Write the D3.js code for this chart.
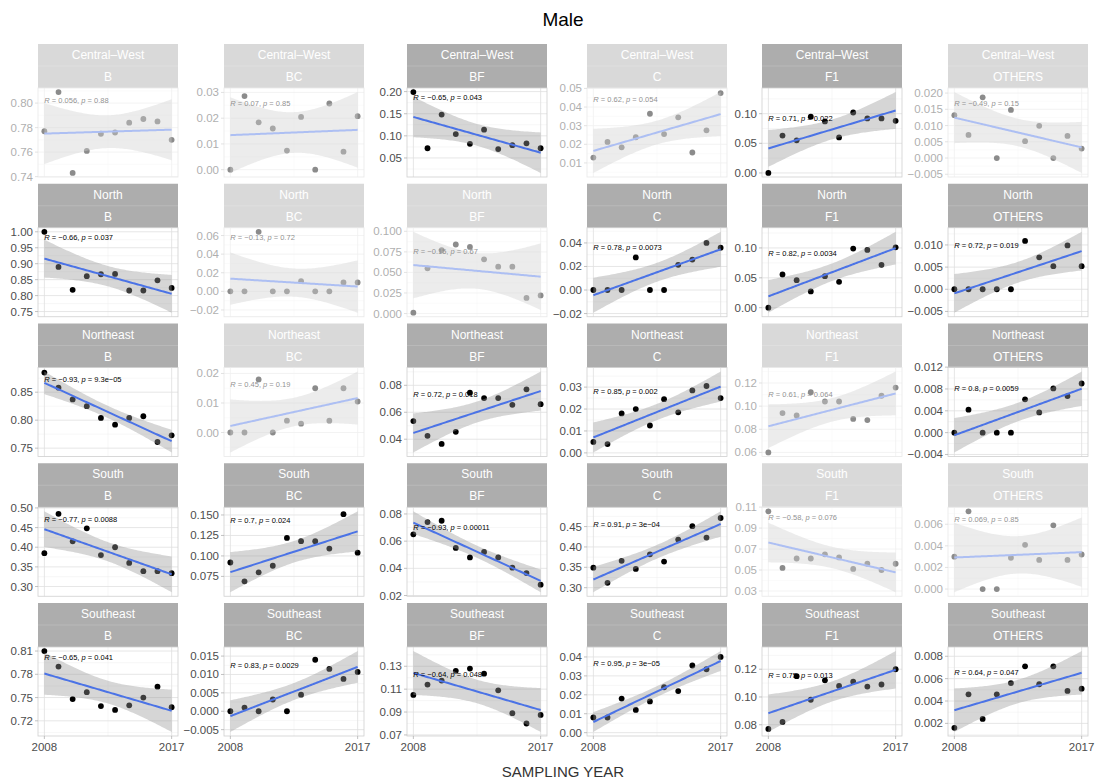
<!DOCTYPE html>
<html>
<head>
<meta charset="utf-8">
<script src="https://cdn.jsdelivr.net/npm/d3@7"></script>
<style>
  body { margin: 0; background: #fff; }
  text { font-family: "Liberation Sans", Arial, Helvetica, sans-serif; }
</style>
</head>
<body>
<svg id="chart" width="1097" height="783"></svg>
<script>
// sampling years and facet labels
var years = [2008, 2009, 2010, 2011, 2012, 2013, 2014, 2015, 2016, 2017];
var regions = ["Central\u2013West", "North", "Northeast", "South", "Southeast"];
var groups = ["B", "BC", "BF", "C", "F1", "OTHERS"];

// values per region, one array per group (B, BC, BF, C, F1, OTHERS)
var centralWest = [
  [0.777, 0.809, 0.743, 0.761, 0.775, 0.776, 0.784, 0.787, 0.785, 0.770],
  [0.000, 0.0286, 0.0184, 0.0160, 0.0074, 0.0205, 0.000, 0.0257, 0.0070, 0.0208],
  [0.199, 0.072, 0.148, 0.104, 0.082, 0.114, 0.070, 0.079, 0.083, 0.072],
  [0.0129, 0.0213, 0.0184, 0.0238, 0.0364, 0.0255, 0.0345, 0.0156, 0.0275, 0.0475],
  [0.000, 0.063, 0.055, 0.095, 0.087, 0.060, 0.102, 0.092, 0.092, 0.088],
  [0.0132, 0.0071, 0.0187, 0.000, 0.0148, 0.0052, 0.0099, 0.000, 0.0068, 0.0029]
];
var north = [
  [1.000, 0.890, 0.818, 0.861, 0.867, 0.868, 0.816, 0.816, 0.848, 0.824],
  [0.000, 0.000, 0.064, 0.000, 0.000, 0.011, 0.000, 0.000, 0.0096, 0.0096],
  [0.001, 0.055, 0.077, 0.084, 0.081, 0.066, 0.057, 0.057, 0.019, 0.022],
  [0.000, 0.000, 0.000, 0.0277, 0.000, 0.000, 0.0214, 0.0259, 0.040, 0.036],
  [0.000, 0.0556, 0.0461, 0.0272, 0.0528, 0.0433, 0.0989, 0.0967, 0.0717, 0.101],
  [0.000, 0.000, 0.000, 0.000, 0.000, 0.0109, 0.0072, 0.0052, 0.0099, 0.0052]
];
var northeast = [
  [0.885, 0.858, 0.837, 0.825, 0.804, 0.792, 0.804, 0.807, 0.761, 0.773],
  [0.000, 0.000, 0.018, 0.000, 0.004, 0.003, 0.015, 0.004, 0.015, 0.0105],
  [0.0535, 0.0425, 0.0365, 0.0455, 0.0745, 0.0705, 0.0705, 0.0655, 0.077, 0.066],
  [0.005, 0.004, 0.018, 0.020, 0.0125, 0.0245, 0.0185, 0.0285, 0.0305, 0.025],
  [0.060, 0.094, 0.092, 0.112, 0.104, 0.104, 0.089, 0.088, 0.109, 0.116],
  [0.000, 0.0042, 0.000, 0.000, 0.000, 0.0061, 0.0037, 0.0081, 0.0067, 0.009]
];
var south = [
  [0.385, 0.485, 0.415, 0.448, 0.380, 0.400, 0.360, 0.339, 0.339, 0.334],
  [0.092, 0.069, 0.080, 0.088, 0.122, 0.118, 0.118, 0.109, 0.151, 0.104],
  [0.065, 0.074, 0.075, 0.055, 0.048, 0.052, 0.048, 0.0405, 0.0365, 0.028],
  [0.349, 0.312, 0.366, 0.346, 0.382, 0.364, 0.418, 0.451, 0.423, 0.471],
  [0.106, 0.052, 0.061, 0.061, 0.065, 0.062, 0.051, 0.056, 0.050, 0.056],
  [0.003, 0.0072, 0.000, 0.000, 0.0029, 0.0041, 0.0027, 0.0059, 0.0027, 0.0032]
];
var southeast = [
  [0.810, 0.790, 0.748, 0.757, 0.739, 0.734, 0.740, 0.750, 0.764, 0.7375],
  [0.000, 0.001, 0.000, 0.0032, 0.000, 0.0045, 0.014, 0.0115, 0.0088, 0.0107],
  [0.105, 0.114, 0.1175, 0.126, 0.128, 0.1235, 0.109, 0.089, 0.080, 0.0875],
  [0.008, 0.008, 0.018, 0.012, 0.0165, 0.024, 0.022, 0.0355, 0.0335, 0.040],
  [0.077, 0.082, 0.115, 0.098, 0.112, 0.108, 0.111, 0.1075, 0.109, 0.120],
  [0.0016, 0.0046, 0.0024, 0.0046, 0.0056, 0.0071, 0.0055, 0.0071, 0.0049, 0.0051]
];
var regionValues = [centralWest, north, northeast, south, southeast];

// correlation labels (R, p) per region
var rLabels = [
  [0.056, 0.07, -0.65, 0.62, 0.71, -0.49],
  [-0.66, -0.13, -0.15, 0.78, 0.82, 0.72],
  [-0.93, 0.45, 0.72, 0.85, 0.61, 0.8],
  [-0.77, 0.7, -0.93, 0.91, -0.58, 0.069],
  [-0.65, 0.83, -0.64, 0.95, 0.75, 0.64]
];
var pLabels = [
  ["0.88", "0.85", "0.043", "0.054", "0.022", "0.15"],
  ["0.037", "0.72", "0.67", "0.0073", "0.0034", "0.019"],
  ["9.3e-05", "0.19", "0.018", "0.002", "0.064", "0.0059"],
  ["0.0088", "0.024", "0.00011", "3e-04", "0.076", "0.85"],
  ["0.041", "0.0029", "0.048", "3e-05", "0.013", "0.047"]
];

// y tick labels per region / group
var yTickLabels = [
  [["0.74", "0.76", "0.78", "0.80"], ["0.00", "0.01", "0.02", "0.03"], ["0.05", "0.10", "0.15", "0.20"],
   ["0.01", "0.02", "0.03", "0.04", "0.05"], ["0.00", "0.05", "0.10"], ["-0.005", "0.000", "0.005", "0.010", "0.015", "0.020"]],
  [["0.75", "0.80", "0.85", "0.90", "0.95", "1.00"], ["-0.02", "0.00", "0.02", "0.04", "0.06"], ["0.000", "0.025", "0.050", "0.075", "0.100"],
   ["-0.02", "0.00", "0.02", "0.04"], ["0.00", "0.05", "0.10"], ["-0.005", "0.000", "0.005", "0.010"]],
  [["0.75", "0.80", "0.85"], ["0.00", "0.01", "0.02"], ["0.04", "0.06", "0.08"],
   ["0.00", "0.01", "0.02", "0.03"], ["0.06", "0.08", "0.10", "0.12"], ["-0.004", "0.000", "0.004", "0.008", "0.012"]],
  [["0.30", "0.35", "0.40", "0.45", "0.50"], ["0.075", "0.100", "0.125", "0.150"], ["0.02", "0.04", "0.06", "0.08"],
   ["0.30", "0.35", "0.40", "0.45"], ["0.03", "0.05", "0.07", "0.09", "0.11"], ["0.000", "0.002", "0.004", "0.006"]],
  [["0.72", "0.75", "0.78", "0.81"], ["-0.005", "0.000", "0.005", "0.010", "0.015"], ["0.07", "0.09", "0.11", "0.13"],
   ["0.00", "0.01", "0.02", "0.03", "0.04"], ["0.08", "0.10", "0.12"], ["0.002", "0.004", "0.006", "0.008"]]
];
var xTickLabels = [2008, 2017];

// layout
var colLeft = [38, 224, 407, 587, 762, 948];
var panelW = 140, stripH = 22, panelH = 89, rowStep = 139.75, top0 = 44;
var tQuant = 2.306; // t(0.975, df = 8)

var svg = d3.select("#chart");

function minus(s) { return String(s).replace("-", "\u2212"); }

regions.forEach(function (region, r) {
  groups.forEach(function (group, c) {
    var values = regionValues[r][c];
    var sig = +pLabels[r][c] < 0.05;
    var left = colLeft[c];
    var stripTop = top0 + r * rowStep;
    var top = stripTop + 2 * stripH;

    // linear fit with 95% confidence band (like geom_smooth(method = "lm"))
    var xm = d3.mean(years), ym = d3.mean(values);
    var sxx = d3.sum(years, function (x) { return (x - xm) * (x - xm); });
    var sxy = d3.sum(years, function (x, i) { return (x - xm) * (values[i] - ym); });
    var slope = sxy / sxx, icpt = ym - slope * xm;
    var sse = d3.sum(years, function (x, i) { var e = values[i] - (icpt + slope * x); return e * e; });
    var s = Math.sqrt(sse / (years.length - 2));
    var band = d3.range(80).map(function (i) {
      var x = 2008 + 9 * i / 79;
      var fit = icpt + slope * x;
      var se = s * Math.sqrt(1 / years.length + (x - xm) * (x - xm) / sxx);
      return { x: x, fit: fit, lo: fit - tQuant * se, hi: fit + tQuant * se };
    });

    var lo = Math.min(d3.min(values), d3.min(band, function (d) { return d.lo; }));
    var hi = Math.max(d3.max(values), d3.max(band, function (d) { return d.hi; }));
    var pad = (hi - lo) * 0.05;

    var x = d3.scaleLinear().domain([2008 - 0.45, 2017 + 0.45]).range([left, left + panelW]);
    var y = d3.scaleLinear().domain([lo - pad, hi + pad]).range([top + panelH, top]);

    var g = svg.append("g").attr("opacity", sig ? 1 : 0.45);

    // strips
    g.append("rect").attr("x", left).attr("y", stripTop).attr("width", panelW).attr("height", 2 * stripH)
      .attr("fill", "#adadad");
    g.append("line").attr("x1", left).attr("x2", left + panelW)
      .attr("y1", stripTop + stripH).attr("y2", stripTop + stripH)
      .attr("stroke", "#bdbdbd").attr("stroke-width", 0.8);
    g.append("text").attr("x", left + panelW / 2).attr("y", stripTop + stripH / 2 + 4)
      .attr("text-anchor", "middle").attr("fill", "#fff").style("font-size", "12px").text(region);
    g.append("text").attr("x", left + panelW / 2).attr("y", stripTop + stripH * 1.5 + 4)
      .attr("text-anchor", "middle").attr("fill", "#fff").style("font-size", "12px").text(group);

    // grid
    var ticks = yTickLabels[r][c].map(Number);
    var step = ticks[1] - ticks[0];
    var minor = d3.range(ticks.length + 1).map(function (i) { return ticks[0] + (i - 0.5) * step; })
      .filter(function (v) { return v > y.domain()[0] && v < y.domain()[1]; });
    g.selectAll(".ymin").data(minor).enter().append("line")
      .attr("x1", left).attr("x2", left + panelW)
      .attr("y1", function (d) { return y(d); }).attr("y2", function (d) { return y(d); })
      .attr("stroke", "#eeeeee").attr("stroke-width", 0.5);
    g.append("line").attr("x1", x(2012.5)).attr("x2", x(2012.5)).attr("y1", top).attr("y2", top + panelH)
      .attr("stroke", "#eeeeee").attr("stroke-width", 0.5);
    g.selectAll(".ymaj").data(ticks).enter().append("line")
      .attr("x1", left).attr("x2", left + panelW)
      .attr("y1", function (d) { return y(d); }).attr("y2", function (d) { return y(d); })
      .attr("stroke", "#e0e0e0").attr("stroke-width", 0.8);
    g.selectAll(".xmaj").data(xTickLabels).enter().append("line")
      .attr("x1", function (d) { return x(d); }).attr("x2", function (d) { return x(d); })
      .attr("y1", top).attr("y2", top + panelH)
      .attr("stroke", "#e0e0e0").attr("stroke-width", 0.8);

    // points, then band and fitted line on top
    g.selectAll("circle").data(values).enter().append("circle")
      .attr("cx", function (d, i) { return x(years[i]); })
      .attr("cy", function (d) { return y(d); })
      .attr("r", 2.9).attr("fill", "#000");
    g.append("path").datum(band)
      .attr("d", d3.area().x(function (d) { return x(d.x); })
        .y0(function (d) { return y(d.lo); }).y1(function (d) { return y(d.hi); }))
      .attr("fill", "#999999").attr("fill-opacity", 0.4);
    g.append("path").datum(band)
      .attr("d", d3.line().x(function (d) { return x(d.x); }).y(function (d) { return y(d.fit); }))
      .attr("fill", "none").attr("stroke", "#4b73e6").attr("stroke-width", 2);

    // correlation label
    var ly = d3.min(values) + 0.9 * (d3.max(values) - d3.min(values));
    var lab = g.append("text").attr("x", x(2008)).attr("y", y(ly) + 2.6)
      .attr("fill", "#000").style("font-size", "7.5px");
    lab.append("tspan").style("font-style", "italic").text("R");
    lab.append("tspan").text(" = " + minus(rLabels[r][c]) + ", ");
    lab.append("tspan").style("font-style", "italic").text("p");
    lab.append("tspan").text(" = " + minus(pLabels[r][c]));

    // panel border
    g.append("rect").attr("x", left).attr("y", top).attr("width", panelW).attr("height", panelH)
      .attr("fill", "none").attr("stroke", "#cfcfcf").attr("stroke-width", 0.8);

    // y axis
    g.selectAll(".ytick").data(ticks).enter().append("line")
      .attr("x1", left - 3).attr("x2", left)
      .attr("y1", function (d) { return y(d); }).attr("y2", function (d) { return y(d); })
      .attr("stroke", "#b3b3b3").attr("stroke-width", 0.8);
    g.selectAll(".ylab").data(yTickLabels[r][c]).enter().append("text")
      .attr("x", left - 5).attr("y", function (d) { return y(+d) + 4; })
      .attr("text-anchor", "end").attr("fill", "#4d4d4d").style("font-size", "11.5px")
      .text(function (d) { return minus(d); });

    // x axis on bottom row only
    if (r === regions.length - 1) {
      g.selectAll(".xtick").data(xTickLabels).enter().append("line")
        .attr("x1", function (d) { return x(d); }).attr("x2", function (d) { return x(d); })
        .attr("y1", top + panelH).attr("y2", top + panelH + 3)
        .attr("stroke", "#b3b3b3").attr("stroke-width", 0.8);
      g.selectAll(".xlab").data(xTickLabels).enter().append("text")
        .attr("x", function (d) { return x(d); }).attr("y", top + panelH + 15)
        .attr("text-anchor", "middle").attr("fill", "#4d4d4d").style("font-size", "11.5px")
        .text(function (d) { return d; });
    }
  });
});

// titles
svg.append("text").attr("x", 563).attr("y", 26).attr("text-anchor", "middle")
  .attr("fill", "#000").style("font-size", "19px").text("Male");
svg.append("text").attr("x", 563).attr("y", 777).attr("text-anchor", "middle")
  .attr("fill", "#333").style("font-size", "15px").text("SAMPLING YEAR");
</script>
</body>
</html>
